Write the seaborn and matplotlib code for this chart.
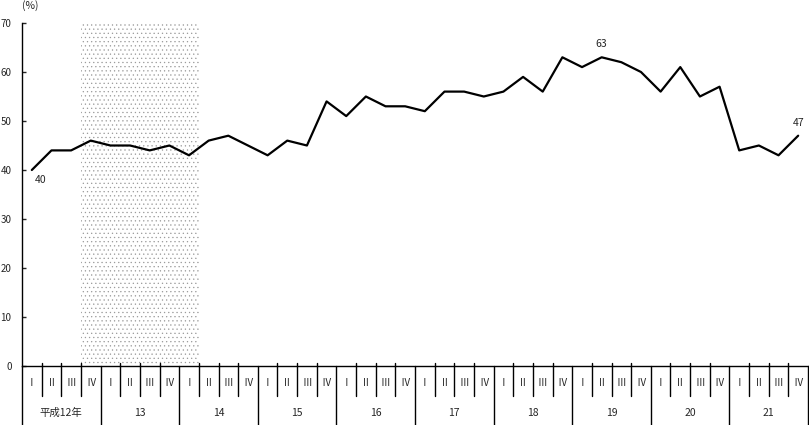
import matplotlib
matplotlib.use("Agg")
import matplotlib.pyplot as plt
import matplotlib.transforms as mtransforms
import seaborn as sns
import pandas as pd
import numpy as np

years = ["平成12年", "13", "14", "15", "16", "17", "18", "19", "20", "21"]
quarters = ["Ⅰ", "Ⅱ", "Ⅲ", "Ⅳ"]
values = [40, 44, 44, 46, 45, 45, 44, 45, 43, 46, 47, 45,
          43, 46, 45, 54, 51, 55, 53, 53, 52, 56, 56, 55,
          56, 59, 56, 63, 61, 63, 62, 60, 56, 61, 55, 57,
          44, 45, 43, 47]
annotations = {0: ("40", "below"), 29: ("63", "above"), 39: ("47", "above")}
shade_start, shade_end = 3, 8  # quarter indices (2000 Q4 .. 2002 Q1)
yticks = [0, 10, 20, 30, 40, 50, 60, 70]

sns.set_style("white")
plt.rcParams["font.family"] = ["Noto Sans CJK JP", "DejaVu Sans"]
plt.rcParams["hatch.linewidth"] = 0.4

W, H = 809, 425
fig = plt.figure(figsize=(W / 100, H / 100), dpi=100)
x0, x1, ytop, ybot = 22, 808, 23, 366
ax = fig.add_axes([x0 / W, (H - ybot) / H, (x1 - x0) / W, (ybot - ytop) / H])

n = len(values)
df = pd.DataFrame({"q": np.arange(n), "v": values})

ax.axvspan(shade_start - 0.5, shade_end + 0.5, facecolor="white",
           edgecolor="#9a9a9a", hatch="....", linewidth=0, zorder=0)
sns.lineplot(data=df, x="q", y="v", ax=ax, color="black", linewidth=1.6, zorder=3)

ax.set_xlim(-0.5, n - 0.5)
ax.set_ylim(0, 70)
ax.set_yticks(yticks)
ax.set_yticklabels([str(t) for t in yticks], fontsize=7)
ax.set_xticks([])
ax.set_xlabel("")
ax.set_ylabel("")
ax.tick_params(axis="y", direction="in", length=3, width=1, pad=7.5, left=True)
for s in ["top", "right"]:
    ax.spines[s].set_visible(False)
for s in ["left", "bottom"]:
    ax.spines[s].set_color("black")
    ax.spines[s].set_linewidth(1)

for i, (txt, pos) in annotations.items():
    if pos == "below":
        ax.annotate(txt, (i, values[i]), xytext=(9, -10), textcoords="offset pixels",
                    ha="center", va="center", fontsize=7.5)
    else:
        ax.annotate(txt, (i, values[i]), xytext=(0, 13), textcoords="offset pixels",
                    ha="center", va="center", fontsize=7.5)

# category table below axis
ah = ybot - ytop
trans = mtransforms.blended_transform_factory(ax.transData, ax.transAxes)
for k in range(n + 1):
    xe = k - 0.5
    if k % 4 == 0:
        ax.plot([xe, xe], [0, -(H - ybot) / ah], transform=trans, color="black",
                linewidth=1, clip_on=False)
    else:
        ax.plot([xe, xe], [3 / ah, -30 / ah], transform=trans, color="black",
                linewidth=1, clip_on=False)
for k in range(n):
    ax.text(k, -17 / ah, quarters[k % 4], transform=trans, ha="center", va="center",
            fontsize=7)
for j, y in enumerate(years):
    ax.text(4 * j + 1.5, -47 / ah, y, transform=trans, ha="center", va="center",
            fontsize=7.5)

fig.text(22 / W, 1 - 6 / H, "(%)", ha="left", va="center", fontsize=7.5)

fig.savefig("out.png", dpi=100)
